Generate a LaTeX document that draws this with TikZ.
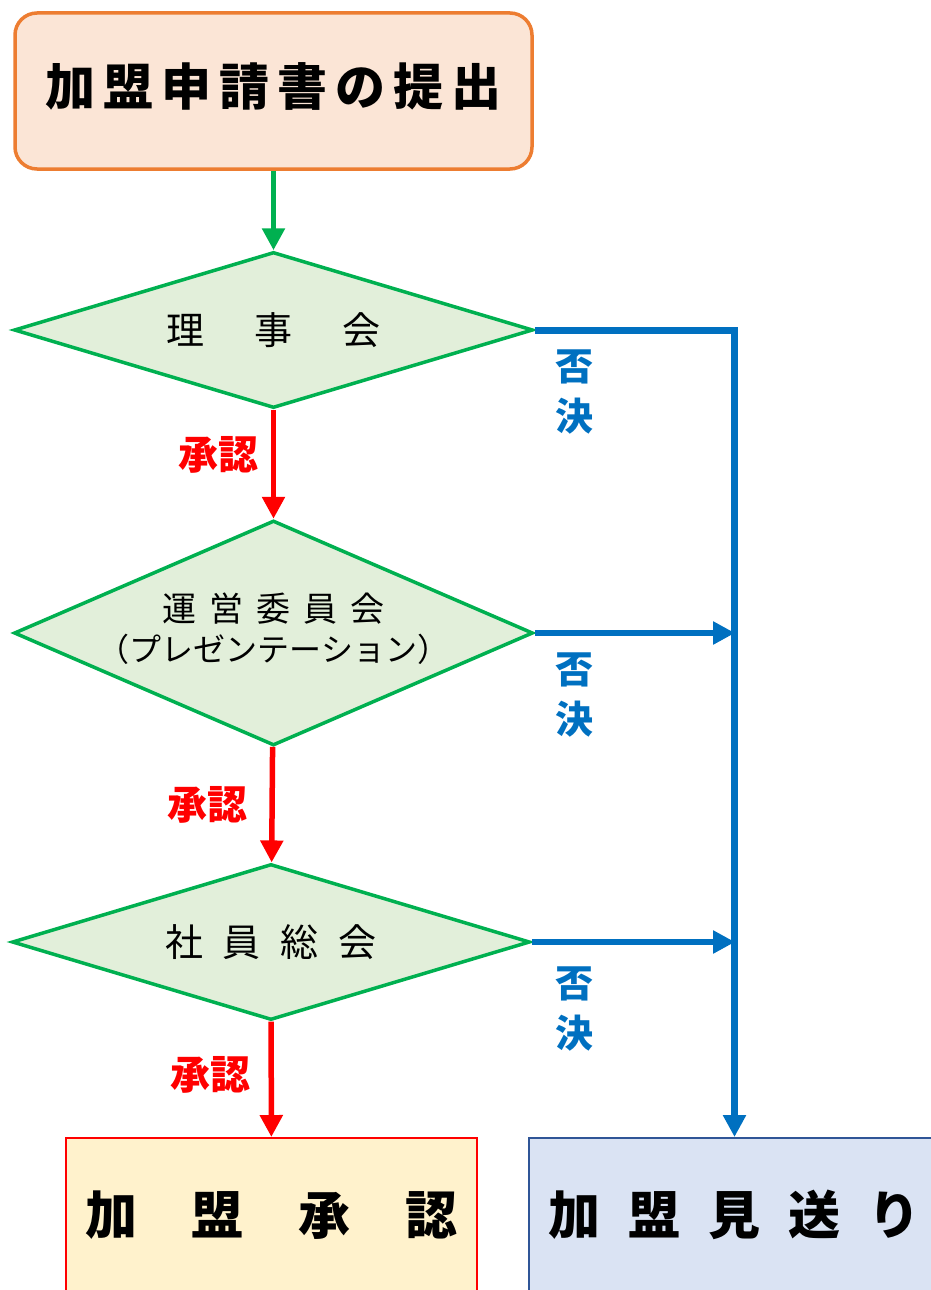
\documentclass[tikz,border=0pt]{standalone}
\usepackage{fontspec}
\setmainfont{Noto Sans CJK JP}
\usetikzlibrary{shapes.geometric,arrows.meta}

\definecolor{startfill}{HTML}{FBE5D6}
\definecolor{startline}{HTML}{ED7D31}
\definecolor{stepfill}{HTML}{E2EFDA}
\definecolor{stepline}{HTML}{00B050}
\definecolor{nogood}{HTML}{0070C0}
\definecolor{okfill}{HTML}{FFF2CC}
\definecolor{ngfill}{HTML}{DAE3F3}
\definecolor{ngline}{HTML}{2F5597}

\newcommand{\fs}[1]{\fontsize{#1}{#1}\selectfont}

\begin{document}
\begin{tikzpicture}[x=1pt,y=-1pt,
  startbox/.style={draw=startline, fill=startfill, line width=3.5pt, rounded corners=22pt,
    minimum width=517pt, minimum height=156pt, inner sep=0pt},
  decide/.style={diamond, draw=stepline, fill=stepfill, line width=3.5pt, inner sep=0pt},
  endbox/.style={draw, line width=2pt, minimum width=411pt, minimum height=160pt, inner sep=0pt},
  go/.style={line width=5.5pt, -{Triangle[length=22pt,width=22pt]}},
  yes/.style={text=red, font=\fs{40}\bfseries},
  no/.style={text=nogood, font=\fs{38}\bfseries, align=center}]
\useasboundingbox (0,0) rectangle (931,1290);

\node [startbox, label={[font=\fs{50}\bfseries, yshift=5pt]center:加\hspace{8pt}盟\hspace{8pt}申\hspace{8pt}請\hspace{8pt}書\hspace{8pt}の\hspace{8pt}提\hspace{8pt}出}]
  (apply) at (273.5,91) {};

\node [decide, minimum width=519pt, minimum height=156pt,
  label={[font=\fs{38}]center:理\hspace{50pt}事\hspace{50pt}会}] (board) at (273.5,330) {};
\node [decide, minimum width=519pt, minimum height=225pt,
  label={[font=\fs{34}, align=center, yshift=4pt]center:運\hspace{13pt}営\hspace{13pt}委\hspace{13pt}員\hspace{13pt}会\\[6pt]{\fs{32}（プレゼンテーション）}}] (steer) at (273.5,633) {};
\node [decide, minimum width=518pt, minimum height=156pt,
  label={[font=\fs{38}]center:社\hspace{20pt}員\hspace{20pt}総\hspace{20pt}会}] (members) at (271,942) {};

\node [endbox, draw=red, fill=okfill,
  label={[font=\fs{52}\bfseries, yshift=3pt]center:加\hspace{55pt}盟\hspace{55pt}承\hspace{55pt}認}] (admit) at (271.5,1218) {};
\node [endbox, draw=ngline, fill=ngfill,
  label={[font=\fs{52}\bfseries, yshift=3pt]center:加\hspace{28pt}盟\hspace{28pt}見\hspace{28pt}送\hspace{28pt}り}] (reject) at (734.5,1218) {};

\coordinate (j2) at (735,633);
\coordinate (j3) at (735,942);

% flow
\draw [go, draw=stepline] (apply) -- (board);
\draw [go, draw=red] (board) -- (steer);
\draw [go, draw=red] (steer) -- (members);
\draw [go, draw=red] (members) -- (admit);
\draw [go, draw=nogood, line width=7pt] (board.east) -| (reject.north);
\draw [go, draw=nogood, line width=6pt] (steer.east) -- (j2);
\draw [go, draw=nogood, line width=6pt] (members.east) -- (j3);

\node [yes] (ok1) at (218,455) {承認};
\node [yes] (ok2) at (207,805) {承認};
\node [yes] (ok3) at (210,1075) {承認};
\node [no] (ng1) at (574,392) {否\\[12pt]決};
\node [no] (ng2) at (574,695) {否\\[12pt]決};
\node [no] (ng3) at (574,1009) {否\\[12pt]決};
\end{tikzpicture}
\end{document}
